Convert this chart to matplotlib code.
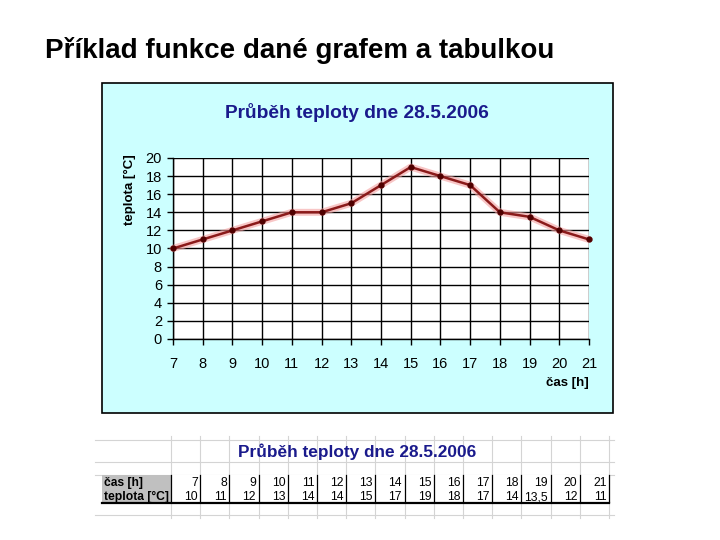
import matplotlib
matplotlib.use("Agg")
import matplotlib.pyplot as plt
from matplotlib.patches import Rectangle

hours = [7, 8, 9, 10, 11, 12, 13, 14, 15, 16, 17, 18, 19, 20, 21]
temps = [10, 11, 12, 13, 14, 14, 15, 17, 19, 18, 17, 14, 13.5, 12, 11]
y_ticks = list(range(0, 21, 2))
slide_title = "Příklad funkce dané grafem a tabulkou"
chart_title = "Průběh teploty dne 28.5.2006"
row_labels = ["čas [h]", "teplota [°C]"]

plt.rcParams['font.family'] = ['Liberation Sans', 'DejaVu Sans']

W, H = 720, 540
fig = plt.figure(figsize=(W / 100, H / 100), dpi=100)
fig.patch.set_facecolor('white')

def fx(px):
    return px / W

def fy(py):
    return 1 - py / H

# slide title
fig.text(fx(45), fy(50), slide_title, fontsize=20, fontweight='bold',
         ha='left', va='center', color='black')

# chart background box
fig.patches.append(Rectangle((fx(102), fy(413)), fx(613) - fx(102), fy(83) - fy(413),
                             transform=fig.transFigure, facecolor='#CCFFFF',
                             edgecolor='black', linewidth=1.2, zorder=-5))

fig.text(fx(357), fy(112), chart_title, fontsize=13.8, fontweight='bold',
         color='#1A1A8C', ha='center', va='center')
fig.text(fx(130), fy(190), "teplota [°C]", fontsize=9.5, fontweight='bold',
         rotation=90, ha='center', va='center')
fig.text(fx(567), fy(383), "čas [h]", fontsize=9.5, fontweight='bold',
         ha='center', va='center')

ax = fig.add_axes([fx(173), fy(339), fx(589) - fx(173), fy(158) - fy(339)])
ax.set_facecolor('white')
ax.set_xlim(hours[0], hours[-1])
ax.set_ylim(0, 20)
ax.set_xticks(hours)
ax.set_yticks(y_ticks)
ax.grid(True, color='black', linewidth=1.0)
ax.set_axisbelow(True)
for s in ['top', 'right']:
    ax.spines[s].set_visible(False)
ax.spines['left'].set_linewidth(1.0)
ax.spines['bottom'].set_linewidth(1.0)
ax.tick_params(axis='both', direction='out', length=4, width=1, labelsize=10.5)
ax.tick_params(axis='x', pad=9)
ax.tick_params(axis='y', pad=4)
ax.plot(hours, temps, color='#F4A0A0', linewidth=5, alpha=0.6, solid_capstyle='round',
        zorder=3, clip_on=False)
ax.plot(hours, temps, color='#8B1A1A', linewidth=1.8, zorder=4, clip_on=False,
        marker='o', markersize=3.5, markerfacecolor='#500000', markeredgecolor='#500000')

# table (overlay axes in pixel coordinates)
tax = fig.add_axes([0, 0, 1, 1], facecolor='none')
tax.set_xlim(0, W)
tax.set_ylim(H, 0)
tax.axis('off')

x0 = 171
cw = 29.2
ncol = len(hours)
top, mid, bot = 475, 488, 502
grid_c = '#D4D4D4'
# spreadsheet gridlines
for i in range(ncol + 1):
    tax.plot([x0 + i * cw] * 2, [436, 518], color=grid_c, linewidth=0.8, zorder=1)
for yy in [440, 462, top, 515]:
    tax.plot([95, x0 + ncol * cw + 5], [yy, yy], color=grid_c, linewidth=0.8, zorder=1)

tax.text(357, 452, chart_title, fontsize=12.4, fontweight='bold', color='#1A1A8C',
         ha='center', va='center', zorder=5)
tax.add_patch(Rectangle((102, top), x0 - 102, bot - top, facecolor='#C0C0C0',
                        edgecolor='none', zorder=2))
tax.add_patch(Rectangle((x0, top), ncol * cw, bot - top, facecolor='white',
                        edgecolor='none', zorder=2))
b1, b2 = 486, 500
tax.text(104, b1, row_labels[0], fontsize=8.7, fontweight='bold',
         ha='left', va='baseline', zorder=5)
tax.text(104, b2, row_labels[1], fontsize=8.7, fontweight='bold',
         ha='left', va='baseline', zorder=5)
for i, (h, t) in enumerate(zip(hours, temps)):
    xr = x0 + (i + 1) * cw - 2.5
    tax.text(xr, b1, str(h), fontsize=8.7, ha='right', va='baseline', zorder=5)
    ts = str(t).replace('.', ',') if t != int(t) else str(int(t))
    tax.text(xr, b2, ts, fontsize=8.7, ha='right', va='baseline', zorder=5)
    tax.plot([x0 + (i + 1) * cw] * 2, [top, bot], color='black', linewidth=0.9, zorder=4)
tax.plot([x0, x0], [top, bot], color='black', linewidth=0.9, zorder=4)
tax.plot([102, x0 + ncol * cw], [bot + 0.5, bot + 0.5], color='black', linewidth=1.6, zorder=4)

fig.savefig("out.png", dpi=100)
